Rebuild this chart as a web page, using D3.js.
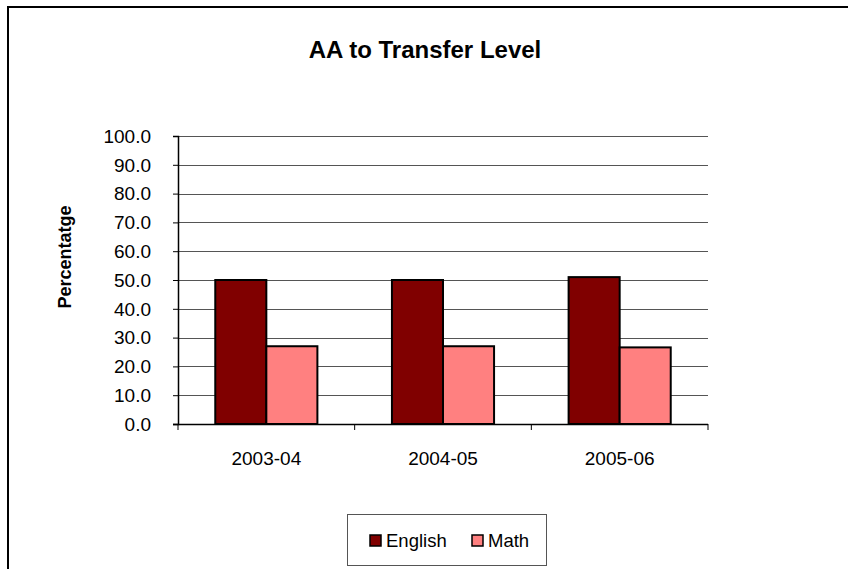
<!DOCTYPE html>
<html>
  <script src="https://cdn.jsdelivr.net/npm/d3@7"></script>
  <style>
    body{ margin: 0; background: #fff; }
    text{ font-family: "Liberation Sans", Arial, sans-serif; }
  </style>
  <body>
    <script>

var categories = ['2003-04', '2004-05', '2005-06']
  , english = [50.0, 50.0, 51.0]
  , math = [27.0, 27.0, 26.6]
  , series = [{name: 'English', values: english, color: '#800000'},
              {name: 'Math', values: math, color: '#FF8080'}]
  , yTicks = d3.range(0, 101, 10)

var W = 848, H = 569
  , svg = d3.select('body').append('svg').attr('width', W).attr('height', H)

// outer chart frame, runs off the right and bottom of the picture
svg.append('rect').attr('x', 8).attr('y', 7).attr('width', 900).attr('height', 700)
  .attr('fill', 'none').attr('stroke', '#000').attr('stroke-width', 2)

var pLeft = 178, pRight = 708, pTop = 136, pBottom = 424

var x = d3.scaleBand().domain(categories).range([pLeft, pRight]).paddingInner(0).paddingOuter(0)
  , y = d3.scaleLinear().domain([0, 100]).range([pBottom, pTop])
  , inner = d3.scaleBand().domain(series.map(function(s){ return s.name }))
      .range([0, x.bandwidth()]).paddingOuter(0.73).paddingInner(0)

// gridlines
svg.append('g').selectAll('line').data(yTicks.slice(1)).enter().append('line')
  .attr('x1', pLeft).attr('x2', pRight)
  .attr('y1', function(d){ return Math.round(y(d)) + 0.5 })
  .attr('y2', function(d){ return Math.round(y(d)) + 0.5 })
  .attr('stroke', '#555').attr('stroke-width', 1)

// bars
series.forEach(function(s){
  svg.append('g').selectAll('rect').data(s.values).enter().append('rect')
    .attr('x', function(d, i){ return x(categories[i]) + inner(s.name) })
    .attr('y', function(d){ return y(d) })
    .attr('width', inner.bandwidth())
    .attr('height', function(d){ return pBottom - y(d) })
    .attr('fill', s.color).attr('stroke', '#000').attr('stroke-width', 2)
})

// y axis
var yAxis = svg.append('g').attr('transform', 'translate(' + pLeft + ',0)')
  .call(d3.axisLeft(y).tickValues(yTicks).tickSize(5).tickPadding(22).tickFormat(d3.format('.1f')))
yAxis.select('.domain').attr('stroke', '#000').attr('stroke-width', 1.5)
yAxis.selectAll('.tick line').attr('stroke', '#000')
yAxis.selectAll('.tick text').attr('font-size', 19).attr('fill', '#000').attr('dy', '0.33em')

// x axis
var xAxis = svg.append('g').attr('transform', 'translate(0,' + pBottom + ')')
  .call(d3.axisBottom(x).tickSize(0).tickPadding(28))
xAxis.select('.domain').attr('d', 'M' + (pLeft - 5) + ',0.5H' + pRight).attr('stroke', '#000').attr('stroke-width', 1.5)
xAxis.selectAll('.tick text').attr('font-size', 19).attr('fill', '#000')
xAxis.append('g').selectAll('line').data(d3.range(categories.length + 1)).enter().append('line')
  .attr('x1', function(i){ return pLeft + i * x.bandwidth() })
  .attr('x2', function(i){ return pLeft + i * x.bandwidth() })
  .attr('y1', 0).attr('y2', 6).attr('stroke', '#000')

// title
svg.append('text').attr('x', 425).attr('y', 58).attr('text-anchor', 'middle')
  .attr('font-size', 24).attr('font-weight', 'bold').text('AA to Transfer Level')

// y label
svg.append('text').attr('transform', 'translate(71,257) rotate(-90)').attr('text-anchor', 'middle')
  .attr('font-size', 18).attr('font-weight', 'bold').text('Percentatge')

// legend
var legend = svg.append('g')
legend.append('rect').attr('x', 347.5).attr('y', 514.5).attr('width', 199).attr('height', 51)
  .attr('fill', '#fff').attr('stroke', '#555').attr('stroke-width', 1)
var lx = [370, 472]
series.forEach(function(s, i){
  legend.append('rect').attr('x', lx[i]).attr('y', 535).attr('width', 11).attr('height', 11)
    .attr('fill', s.color).attr('stroke', '#000').attr('stroke-width', 1.5)
  legend.append('text').attr('x', lx[i] + 16).attr('y', 547).attr('font-size', 18.5).text(s.name)
})

    </script>
  </body>
</html>
